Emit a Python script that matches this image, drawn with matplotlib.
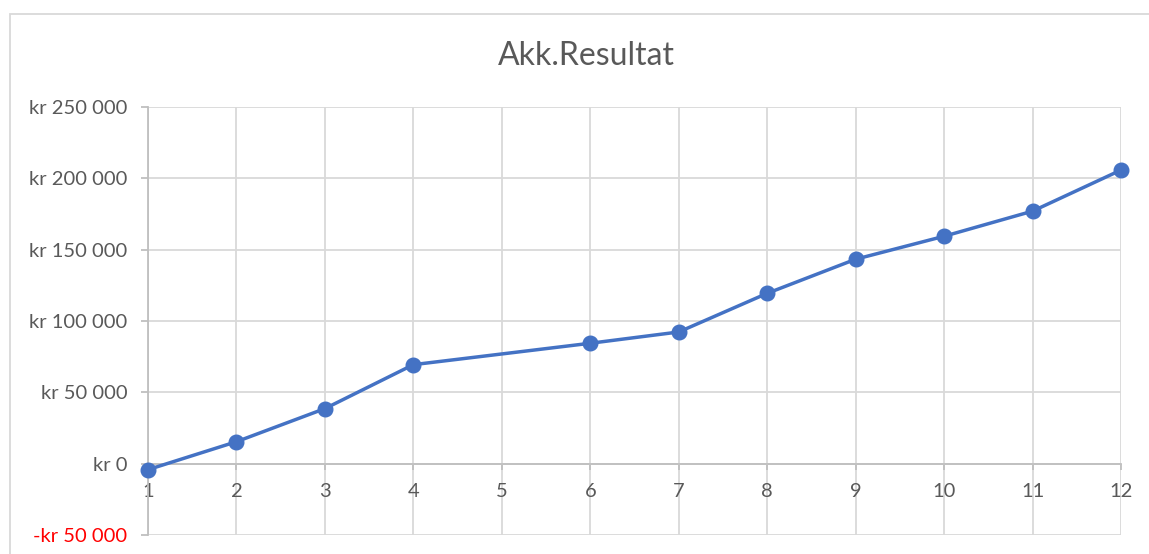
import numpy as np
import matplotlib
matplotlib.use("Agg")
import matplotlib.pyplot as plt
from matplotlib.patches import Rectangle
from matplotlib.ticker import FuncFormatter

plt.rcParams['font.family'] = ['Lato', 'DejaVu Sans']

months = [1, 2, 3, 4, 5, 6, 7, 8, 9, 10, 11, 12]
akk_resultat = [-4200, 15400, 38600, 69400, np.nan, 84400, 92300, 119400, 143300, 159400, 177000, 205800]
y_ticks = [-50000, 0, 50000, 100000, 150000, 200000, 250000]
title = "Akk.Resultat"

W, H = 1149, 554
fig = plt.figure(figsize=(W / 100, H / 100), dpi=100)

# chart frame (cropped at right/bottom)
fig.patches.append(Rectangle((10 / W, -0.1), 1.2, 1 - 14 / H + 0.1, transform=fig.transFigure,
                             fill=False, edgecolor='#D9D9D9', linewidth=1.3))

left, right, top, bottom = 148, 1121, 107, 535
ax = fig.add_axes([left / W, 1 - bottom / H, (right - left) / W, (bottom - top) / H])

x = np.array(months, dtype=float)
y = np.array(akk_resultat, dtype=float)
m = ~np.isnan(y)
ax.plot(x[m], y[m], color='#4472C4', linewidth=2.5, marker='o', markersize=10.5,
        solid_capstyle='round', zorder=5, clip_on=False)

ax.set_xlim(1, 12)
ax.set_ylim(-50000, 250000)
ax.set_xticks(months)
ax.set_xticklabels([str(v) for v in months])
ax.set_yticks(y_ticks)

def fmt(v, pos):
    v = int(round(v))
    s = f"{abs(v):,}".replace(",", " ")
    return ("-kr " if v < 0 else "kr ") + s

ax.yaxis.set_major_formatter(FuncFormatter(fmt))

ax.grid(True, color='#D9D9D9', linewidth=1.3)
ax.set_axisbelow(True)
for s in ['top', 'right']:
    ax.spines[s].set_visible(False)
ax.spines['left'].set_color('#BFBFBF')
ax.spines['left'].set_linewidth(1.3)
ax.spines['bottom'].set_position(('data', 0))
ax.spines['bottom'].set_color('#BFBFBF')
ax.spines['bottom'].set_linewidth(1.3)
ax.spines['bottom'].set_zorder(3)

ax.tick_params(axis='y', length=5, width=1.3, color='#BFBFBF', pad=10, labelsize=14.5, labelcolor='#595959')
ax.tick_params(axis='x', length=4, width=1.3, color='#BFBFBF', pad=10, labelsize=14.5, labelcolor='#595959')
for lab, v in zip(ax.get_yticklabels(), y_ticks):
    if v < 0:
        lab.set_color('#FF0000')

fig.text(586 / W, 1 - 56 / H, title, ha='center', va='center', fontsize=23, color='#595959')

fig.savefig("out.png", dpi=100)
